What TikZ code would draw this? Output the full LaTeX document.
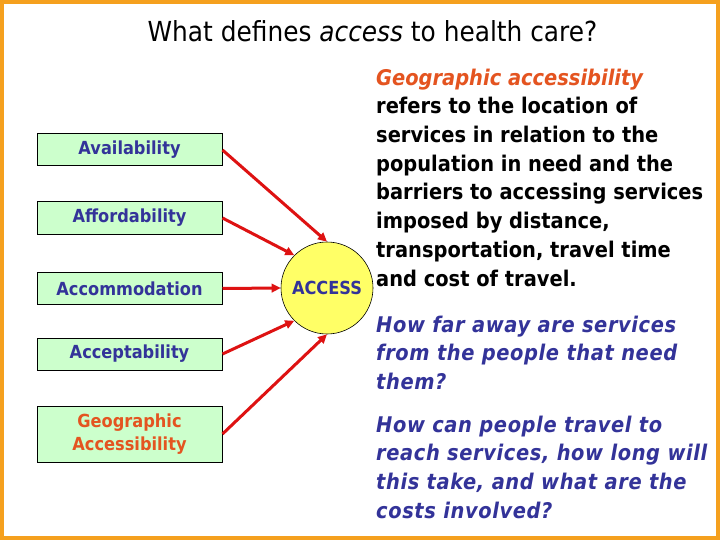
\documentclass[tikz,border=0pt]{standalone}
\usepackage{fontspec}
\setmainfont{DejaVu Sans}[FakeStretch=0.9]
\usetikzlibrary{positioning,arrows.meta}
\definecolor{frameorange}{RGB}{245,160,30}
\definecolor{boxgreen}{RGB}{204,255,204}
\definecolor{labelblue}{RGB}{51,51,153}
\definecolor{geored}{RGB}{228,84,32}
\definecolor{arrowred}{RGB}{222,18,18}
\definecolor{hubyellow}{RGB}{255,255,102}
\begin{document}
\begin{tikzpicture}[x=1pt,y=-1pt,
	box/.style={draw=black, line width=1pt, fill=boxgreen, minimum width=185pt, minimum height=32pt, inner sep=0pt, align=center, text=labelblue, font=\bfseries\fontsize{18}{23}\selectfont},
	hub/.style={circle, draw=black, line width=.6pt, fill=hubyellow, minimum size=92pt, inner sep=0pt, text=labelblue, font=\bfseries\fontsize{18}{22}\selectfont},
	link/.style={draw=arrowred, line width=3pt, -{Triangle[length=9pt,width=8.5pt]}},
	para/.style={anchor=north west, inner sep=0pt, align=left, font=\bfseries\fontsize{21.6}{28.7}\selectfont},
	query/.style={para, text=labelblue, font=\bfseries\itshape\fontsize{21.6}{28.7}\selectfont\addfontfeatures{LetterSpace=2.8}}]
			\useasboundingbox (0,0) rectangle (720,540);
			\fill[white] (0,0) rectangle (720,540);
			\draw[frameorange, line width=4pt] (2,2) rectangle (718,538);
			\node[anchor=base, font=\fontsize{27.6}{32}\selectfont] (title) at (372.5,42) {What defines \textit{access} to health care?};
			\node[box] (avail) at (129.5,150) {Availability};
			\node[box] (afford) at (129.5,218) {Affordability};
			\node[box] (accom) at (129.5,288.5) {Accommodation};
			\node[box] (accept) at (129.5,354) {Acceptability};
			\node[box, minimum height=56pt, text=geored] (geo) at (129.5,434) {Geographic\\Accessibility};
			\node[hub] (access) at (327,288) {ACCESS};
			\draw[link] (avail.east) -- (access.90);
			\draw[link] (afford.east) -- (access.135);
			\draw[link] (accom.east) -- (access.180);
			\draw[link] (accept.east) -- (access.225);
			\draw[link] (geo.east) -- (access.270);
			\node[para] (defn) at (376,68.5) {\textcolor{geored}{\textit{Geographic accessibility}}\\refers to the location of\\services in relation to the\\population in need and the\\barriers to accessing services\\imposed by distance,\\transportation, travel time\\and cost of travel.};
			\node[query] (howfar) at (376,315.6) {How far away are services\\from the people that need\\them?};
			\node[query] (howcan) at (376,415.6) {How can people travel to\\reach services, how long will\\this take, and what are the\\costs involved?};
		\end{tikzpicture}
\end{document}
